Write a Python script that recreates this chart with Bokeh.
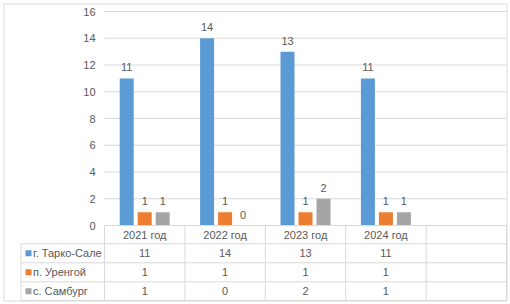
from bokeh.plotting import figure
from bokeh.models import Range1d
from bokeh.core.properties import value
from bokeh.embed import file_html
from bokeh.resources import INLINE

# ---- data ----
years = ["2021 год", "2022 год", "2023 год", "2024 год"]
series_names = ["г. Тарко-Сале", "п. Уренгой", "с. Самбург"]
tarko_sale = [11, 14, 13, 11]
urengoy = [1, 1, 1, 1]
samburg = [1, 0, 2, 1]
series_colors = ["#5B9BD5", "#ED7D31", "#A5A5A5"]
y_ticks = [0, 2, 4, 6, 8, 10, 12, 14, 16]
n_cols = 5  # four years + one empty column in the category axis

series_values = [tarko_sale, urengoy, samburg]

# ---- layout constants (pixel geometry of the chart) ----
W, H = 510, 304
X0, PX_X = 104.0, 80.4     # left of first category, px per category
Y0, PX_Y = 225.0, 13.375   # px of value 0, px per unit


def ux(px):
    return (px - X0) / PX_X


def uy(py):
    return (Y0 - py) / PX_Y


FONT = value("Liberation Sans")
TXT = "#595959"
GRID = "#D9D9D9"
FS = "11px"

p = figure(width=W, height=H, output_backend="svg", toolbar_location=None,
           x_range=Range1d(ux(0), ux(W)), y_range=Range1d(uy(H), uy(0)),
           x_axis_location=None, y_axis_location=None, min_border=0,
           min_border_left=0, min_border_right=0, min_border_top=0, min_border_bottom=0)
p.grid.visible = False
p.outline_line_color = None
p.background_fill_color = "white"
p.border_fill_color = "white"

# outer chart border
p.quad(left=[ux(3.5)], right=[ux(506.5)], top=[uy(3.5)], bottom=[uy(300.5)],
       fill_color=None, line_color=GRID, line_width=1)

# gridlines
gt = y_ticks[1:]
p.segment(x0=[0] * len(gt), x1=[n_cols] * len(gt), y0=gt, y1=gt,
          line_color=GRID, line_width=1)

# y tick labels
p.text(x=[0] * len(y_ticks), y=y_ticks, text=[str(t) for t in y_ticks],
       x_offset=-9, text_align="right", text_baseline="middle",
       text_font=FONT, text_font_size=FS, text_color=TXT)

# bars
bw = 14 / PX_X
step = 18 / PX_X
for k, (vals, col) in enumerate(zip(series_values, series_colors)):
    xs = [i + 0.5 + (k - 1) * step for i in range(len(years))]
    p.vbar(x=xs, top=vals, bottom=0, width=bw, fill_color=col, line_color=None)
    p.text(x=xs, y=vals, text=[str(v) for v in vals], y_offset=-7,
           text_align="center", text_baseline="bottom",
           text_font=FONT, text_font_size=FS, text_color=TXT)

# data table
row_edges_px = [225.0, 243.3, 262.3, 281.3, 300.0]
rows = [uy(v) for v in row_edges_px]
tl = ux(20.5)
# horizontal lines
p.segment(x0=[0], x1=[n_cols], y0=[rows[0]], y1=[rows[0]], line_color=GRID, line_width=1)
p.segment(x0=[tl] * 4, x1=[n_cols] * 4, y0=rows[1:], y1=rows[1:], line_color=GRID, line_width=1)
# vertical lines
vx = list(range(n_cols + 1))
p.segment(x0=vx, x1=vx, y0=[rows[0]] * len(vx), y1=[rows[-1]] * len(vx), line_color=GRID, line_width=1)
p.segment(x0=[tl], x1=[tl], y0=[rows[1]], y1=[rows[-1]], line_color=GRID, line_width=1)

# header
hy = (rows[0] + rows[1]) / 2
p.text(x=[i + 0.5 for i in range(len(years))], y=[hy] * len(years), text=years,
       text_align="center", text_baseline="middle",
       text_font=FONT, text_font_size=FS, text_color=TXT)

# rows
for k, (name, vals, col) in enumerate(zip(series_names, series_values, series_colors)):
    cy = (rows[k + 1] + rows[k + 2]) / 2
    p.rect(x=[ux(28)], y=[cy], width=6, height=6, width_units="screen",
           height_units="screen", fill_color=col, line_color=None)
    p.text(x=[ux(32.5)], y=[cy], text=[name], text_align="left", text_baseline="middle",
           text_font=FONT, text_font_size=FS, text_color=TXT)
    p.text(x=[i + 0.5 for i in range(len(vals))], y=[cy] * len(vals),
           text=[str(v) for v in vals], text_align="center", text_baseline="middle",
           text_font=FONT, text_font_size=FS, text_color=TXT)

open("out.html", "w").write(file_html(p, INLINE))
